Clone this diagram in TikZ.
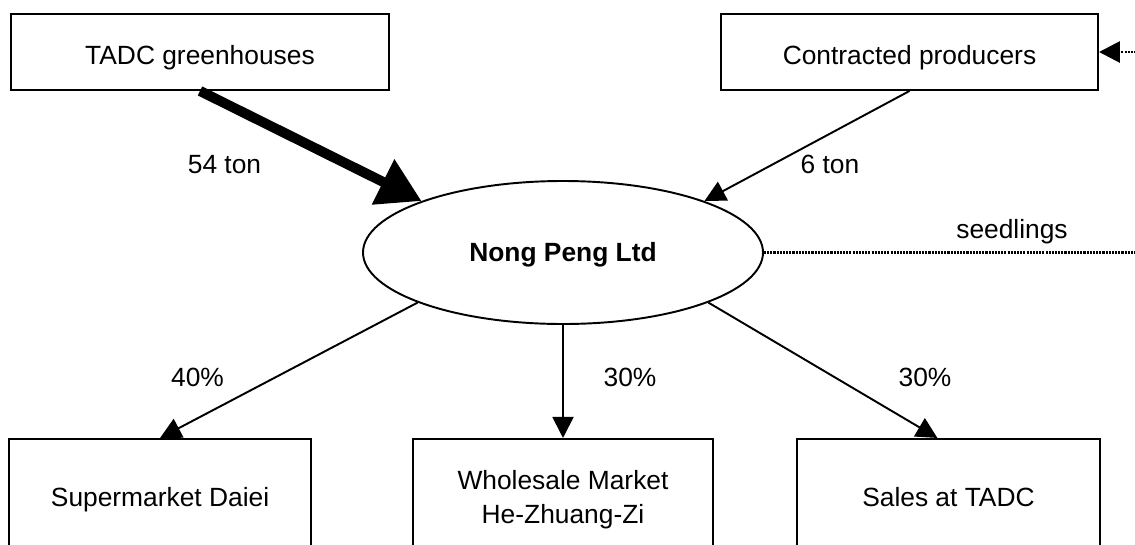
\documentclass[tikz,border=0pt]{standalone}
\usepackage{fontspec}
\setmainfont{Liberation Sans}
\usetikzlibrary{shapes.geometric}
\usetikzlibrary{positioning}
\usetikzlibrary{arrows.meta,calc}

\begin{document}
\begin{tikzpicture}[auto,
node distance = 2.26cm,
>={Triangle[length=0.42cm,width=0.42cm]},
font=\fontsize{15}{19.3}\selectfont,
box/.style={rectangle,draw,line width=1.1pt,minimum height=1.52cm,align=center,text height=14.7pt,text depth=0pt},
hub/.style={ellipse,draw,line width=1.1pt,minimum width=8cm,minimum height=2.86cm,text height=10.8pt,text depth=0pt,font=\fontsize{15}{19.3}\selectfont\bfseries},
flow/.style={->,line width=1.1pt},
bigflow/.style={-{Triangle[length=0.86cm,width=0.96cm]},line width=0.2cm},
seed/.style={->,line width=1.6pt,dash pattern=on 1.2pt off 0.6pt},
lbl/.style={inner sep=0pt,anchor=base}]
\useasboundingbox (0,0) rectangle (22.7,-10.88);
% suppliers
\node [box,minimum width=7.56cm] (tadc) at (4.0,-1.04) {TADC greenhouses};
\node [box,minimum width=7.54cm] (cp) at (18.19,-1.04) {Contracted producers};
% the company
\node [hub] (np) at (11.26,-5.05) {Nong Peng Ltd};
% outlets
\node [box,minimum width=6cm,minimum height=2.2cm,text height=34pt] (wm) [below = of np] {Wholesale Market\\He-Zhuang-Zi};
\node [box,minimum width=6.04cm,minimum height=2.2cm] (sm) [left = 2cm of wm] {Supermarket Daiei};
\node [box,minimum width=6.06cm,minimum height=2.2cm] (sales) [right = 1.64cm of wm] {Sales at TADC};
% flows
\draw [bigflow] (tadc.south) -- (np.160);
\draw [flow] (cp.south) -- (np.20);
\draw [flow] (np.199) -- (sm.north);
\draw [flow] (np.south) -- (wm.north);
\draw [flow] (np.341) -- ([xshift=-0.22cm]sales.north);
\draw [seed] (np.east) -- ++(7.6,0) |- (cp.east);
% labels
\node [lbl] (l54) at (4.49,-3.46) {54 ton};
\node [lbl] (l6) at (16.6,-3.46) {6 ton};
\node [lbl] (lseed) at (20.24,-4.76) {seedlings};
\node [lbl] (l40) at (3.95,-7.72) {40\%};
\node [lbl] (l30a) at (12.6,-7.72) {30\%};
\node [lbl] (l30b) at (18.5,-7.72) {30\%};
\end{tikzpicture}
\end{document}
